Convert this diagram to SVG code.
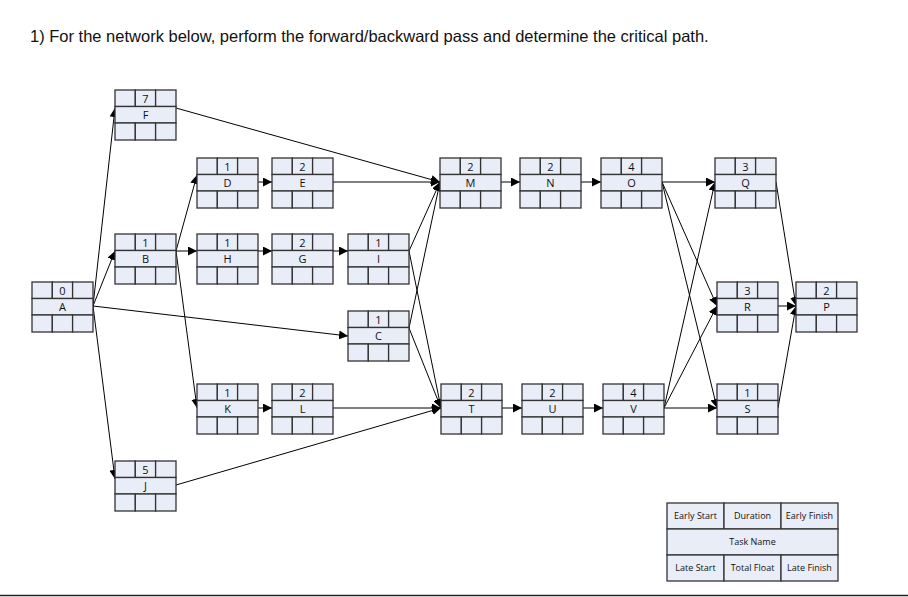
<svg xmlns="http://www.w3.org/2000/svg" width="908" height="597" viewBox="0 0 908 597">
<defs>
<style>
.c{fill:#e9edf7;stroke:#333;stroke-width:1.3}
.t{font-family:"Open Sans","Liberation Sans",sans-serif;font-size:11px;fill:#111;text-anchor:middle}
.l{font-family:"Open Sans","Liberation Sans",sans-serif;font-size:9px;fill:#111;text-anchor:middle}
.e{stroke:#000;stroke-width:1;fill:none;marker-end:url(#a)}
</style>
<marker id="a" viewBox="0 0 10 10" refX="10" refY="5" markerWidth="9" markerHeight="9" markerUnits="userSpaceOnUse" orient="auto"><path d="M0,0L10,5L0,10z"/></marker>
<g id="n">
<rect class="c" x="0" y="0" width="20.3" height="16.5"/><rect class="c" x="20.3" y="0" width="20.3" height="16.5"/><rect class="c" x="40.6" y="0" width="20.4" height="16.5"/>
<rect class="c" x="0" y="16.5" width="61" height="16.5"/>
<rect class="c" x="0" y="33" width="20.3" height="17"/><rect class="c" x="20.3" y="33" width="20.3" height="17"/><rect class="c" x="40.6" y="33" width="20.4" height="17"/>
</g>
</defs>
<rect width="908" height="597" fill="#fff"/>
<text x="30" y="42" font-family="Liberation Sans,sans-serif" font-size="16.5" fill="#111">1) For the network below, perform the forward/backward pass and determine the critical path.</text>
<line x1="0" y1="595.5" x2="908" y2="595.5" stroke="#222" stroke-width="1.5"/>
<g id="connectors">
<line class="e" x1="93" y1="306" x2="115" y2="108"/>
<line class="e" x1="93" y1="306" x2="115" y2="251"/>
<line class="e" x1="93" y1="306" x2="115" y2="479"/>
<line class="e" x1="93" y1="306" x2="348" y2="336"/>
<line class="e" x1="176" y1="251" x2="197" y2="175"/>
<line class="e" x1="176" y1="251" x2="197" y2="251"/>
<line class="e" x1="176" y1="251" x2="197" y2="408"/>
<line class="e" x1="176" y1="108" x2="440" y2="182"/>
<line class="e" x1="258" y1="182" x2="272" y2="182"/>
<line class="e" x1="333" y1="182" x2="440" y2="182"/>
<line class="e" x1="258" y1="251" x2="272" y2="251"/>
<line class="e" x1="333" y1="251" x2="348" y2="251"/>
<line class="e" x1="409" y1="251" x2="440" y2="182"/>
<line class="e" x1="409" y1="251" x2="441" y2="408"/>
<line class="e" x1="409" y1="328" x2="440" y2="182"/>
<line class="e" x1="409" y1="328" x2="441" y2="408"/>
<line class="e" x1="258" y1="408" x2="272" y2="408"/>
<line class="e" x1="333" y1="408" x2="441" y2="408"/>
<line class="e" x1="176" y1="485" x2="441" y2="408"/>
<line class="e" x1="501" y1="182" x2="520" y2="182"/>
<line class="e" x1="581" y1="182" x2="601" y2="182"/>
<line class="e" x1="662" y1="182" x2="715" y2="182"/>
<line class="e" x1="662" y1="182" x2="717" y2="306"/>
<line class="e" x1="662" y1="182" x2="717" y2="408"/>
<line class="e" x1="502" y1="408" x2="522" y2="408"/>
<line class="e" x1="583" y1="408" x2="603" y2="408"/>
<line class="e" x1="664" y1="408" x2="715" y2="182"/>
<line class="e" x1="664" y1="408" x2="717" y2="306"/>
<line class="e" x1="664" y1="408" x2="717" y2="408"/>
<line class="e" x1="776" y1="182" x2="796" y2="306"/>
<line class="e" x1="778" y1="306" x2="796" y2="306"/>
<line class="e" x1="778" y1="408" x2="796" y2="306"/>
</g>
<g id="A" transform="translate(32,282)"><use href="#n"/><text class="t" x="30.5" y="13">0</text><text class="t" x="30.5" y="29">A</text></g>
<g id="F" transform="translate(115,90)"><use href="#n"/><text class="t" x="30.5" y="13">7</text><text class="t" x="30.5" y="29">F</text></g>
<g id="B" transform="translate(115,234)"><use href="#n"/><text class="t" x="30.5" y="13">1</text><text class="t" x="30.5" y="29">B</text></g>
<g id="J" transform="translate(115,461)"><use href="#n"/><text class="t" x="30.5" y="13">5</text><text class="t" x="30.5" y="29">J</text></g>
<g id="D" transform="translate(197,158)"><use href="#n"/><text class="t" x="30.5" y="13">1</text><text class="t" x="30.5" y="29">D</text></g>
<g id="E" transform="translate(272,158)"><use href="#n"/><text class="t" x="30.5" y="13">2</text><text class="t" x="30.5" y="29">E</text></g>
<g id="H" transform="translate(197,234)"><use href="#n"/><text class="t" x="30.5" y="13">1</text><text class="t" x="30.5" y="29">H</text></g>
<g id="G" transform="translate(272,234)"><use href="#n"/><text class="t" x="30.5" y="13">2</text><text class="t" x="30.5" y="29">G</text></g>
<g id="I" transform="translate(348,234)"><use href="#n"/><text class="t" x="30.5" y="13">1</text><text class="t" x="30.5" y="29">I</text></g>
<g id="C" transform="translate(348,311)"><use href="#n"/><text class="t" x="30.5" y="13">1</text><text class="t" x="30.5" y="29">C</text></g>
<g id="K" transform="translate(197,384)"><use href="#n"/><text class="t" x="30.5" y="13">1</text><text class="t" x="30.5" y="29">K</text></g>
<g id="L" transform="translate(272,384)"><use href="#n"/><text class="t" x="30.5" y="13">2</text><text class="t" x="30.5" y="29">L</text></g>
<g id="M" transform="translate(440,158)"><use href="#n"/><text class="t" x="30.5" y="13">2</text><text class="t" x="30.5" y="29">M</text></g>
<g id="N" transform="translate(520,158)"><use href="#n"/><text class="t" x="30.5" y="13">2</text><text class="t" x="30.5" y="29">N</text></g>
<g id="O" transform="translate(601,158)"><use href="#n"/><text class="t" x="30.5" y="13">4</text><text class="t" x="30.5" y="29">O</text></g>
<g id="Q" transform="translate(715,158)"><use href="#n"/><text class="t" x="30.5" y="13">3</text><text class="t" x="30.5" y="29">Q</text></g>
<g id="T" transform="translate(441,384)"><use href="#n"/><text class="t" x="30.5" y="13">2</text><text class="t" x="30.5" y="29">T</text></g>
<g id="U" transform="translate(522,384)"><use href="#n"/><text class="t" x="30.5" y="13">2</text><text class="t" x="30.5" y="29">U</text></g>
<g id="V" transform="translate(603,384)"><use href="#n"/><text class="t" x="30.5" y="13">4</text><text class="t" x="30.5" y="29">V</text></g>
<g id="R" transform="translate(717,282)"><use href="#n"/><text class="t" x="30.5" y="13">3</text><text class="t" x="30.5" y="29">R</text></g>
<g id="S" transform="translate(717,384)"><use href="#n"/><text class="t" x="30.5" y="13">1</text><text class="t" x="30.5" y="29">S</text></g>
<g id="P" transform="translate(796,282)"><use href="#n"/><text class="t" x="30.5" y="13">2</text><text class="t" x="30.5" y="29">P</text></g>
<g id="legend">
<rect class="c" x="667" y="503" width="57" height="26"/><rect class="c" x="724" y="503" width="57" height="26"/><rect class="c" x="781" y="503" width="57" height="26"/>
<rect class="c" x="667" y="529" width="171" height="26"/>
<rect class="c" x="667" y="555" width="57" height="26"/><rect class="c" x="724" y="555" width="57" height="26"/><rect class="c" x="781" y="555" width="57" height="26"/>
<text class="l" x="695.5" y="519">Early Start</text><text class="l" x="752.5" y="519">Duration</text><text class="l" x="809.5" y="519">Early Finish</text>
<text class="l" x="752.5" y="545">Task Name</text>
<text class="l" x="695.5" y="571">Late Start</text><text class="l" x="752.5" y="571">Total Float</text><text class="l" x="809.5" y="571">Late Finish</text>
</g>
</svg>
